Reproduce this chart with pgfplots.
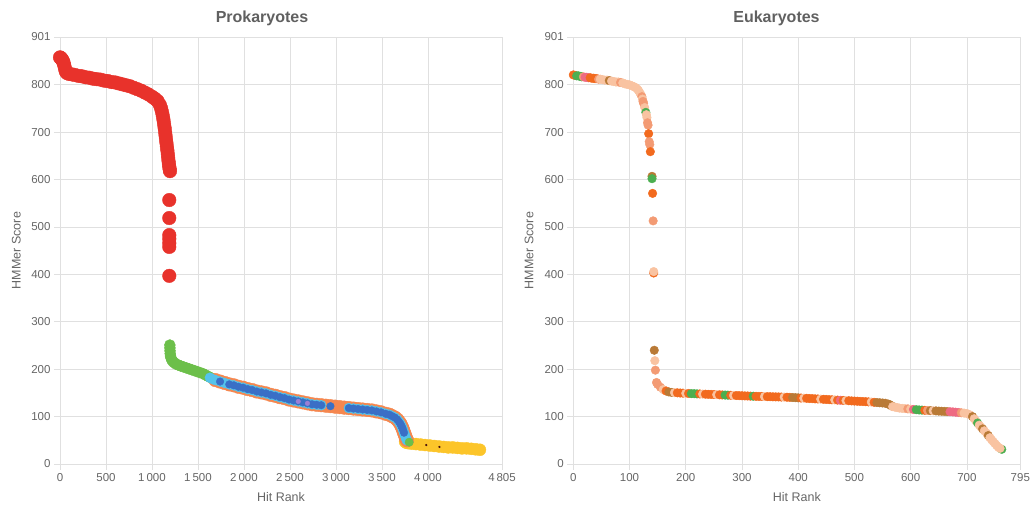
\documentclass[border=0pt]{standalone}
\usepackage{fontspec}
\setmainfont{Liberation Sans}
\usepackage{pgfplots}
\usepackage{pgfplotstable}
\pgfplotsset{compat=1.18}
\definecolor{gridc}{HTML}{E0E0E0}
\definecolor{tickc}{HTML}{666666}
\definecolor{titlec}{HTML}{606060}
\definecolor{pRed}{HTML}{E8322B}
\definecolor{pGreen}{HTML}{6CBF4A}
\definecolor{pLBlue}{HTML}{54C3EA}
\definecolor{pOrange}{HTML}{F5874F}
\definecolor{pDBlue}{HTML}{3A6FC6}
\definecolor{pYellow}{HTML}{FCC52A}
\definecolor{pPurple}{HTML}{9B7FD4}
\definecolor{eP}{HTML}{F9C3A1}
\definecolor{eO}{HTML}{F26A1E}
\definecolor{eG}{HTML}{4CAF50}
\definecolor{eB}{HTML}{B97A36}
\definecolor{eK}{HTML}{EE6A82}
\definecolor{eS}{HTML}{F39B74}

\pgfplotstableread{
x y
1630 182
1660 179
1690 177
1740 174
1790 171
1840 168
1890 166
1940 163
1990 161
2040 158
2090 156
2140 153
2190 151
2240 149
2290 146
2340 144
2390 141
2440 139
2490 136
2540 134
2590 132
2640 130
2690 128
2740 126
2790 125
2840 124
2890 123
2940 122
2990 121
3040 120
3090 119
3140 118
3190 117
3240 116
3290 115
3340 114
3390 113
3440 111
3490 109
3540 106
3580 104
3610 101
3640 98
3665 94
3685 89
3700 85
3712 80
3722 76
3731 71
3740 66
3748 62
3756 57
3764 53
3772 50
}\band

\pgfplotstableread{
x y c
0 821 O
3 820 O
6 819 G
9 819 G
12 818 G
15 817 G
18 817 S
21 816 K
24 816 K
27 815 K
30 815 O
33 814 O
36 814 O
39 813 O
42 813 O
45 812 S
48 812 P
52 811 P
56 810 P
60 810 P
64 809 B
68 808 P
72 807 P
76 806 P
80 806 P
84 805 S
88 804 P
92 802 P
96 801 P
100 800 P
104 798 P
108 796 P
111 794 P
114 791 P
116 788 P
118 784 P
120 780 P
122 775 S
123 770 P
124 765 S
125 761 S
127 752 P
129 742 G
130 737 P
131 731 P
132 720 S
133 715 S
134 697 O
135 680 S
136 674 S
137 659 O
140 607 B
140 602 G
141 571 O
142 513 S
143 403 O
143 406 P
144 240 B
145 218 P
146 198 S
148 172 S
150 168 S
155 162 S
160 157 P
165 154 O
170 152 B
175 151 B
180 150.6 P
185 150.2 O
190 149.8 O
195 149.5 O
200 149.1 P
205 148.8 O
210 148.5 G
215 148.3 G
220 148.0 G
225 147.8 O
230 147.5 P
235 147.3 O
240 147.0 O
245 146.8 O
250 146.6 O
255 146.3 P
260 146.0 O
265 145.7 O
270 145.5 G
275 145.2 G
280 145.0 O
285 144.7 P
290 144.5 O
295 144.2 O
300 144.0 O
305 143.7 O
310 143.5 O
315 143.2 O
320 143.0 G
325 142.8 O
330 142.6 O
335 142.5 O
340 142.3 P
345 142.1 O
350 142.0 O
355 141.8 O
360 141.6 O
365 141.5 O
370 141.3 O
375 141.1 P
380 140.9 O
385 140.6 O
390 140.3 B
395 139.9 B
400 139.6 B
405 139.2 O
410 138.9 P
415 138.6 O
420 138.2 O
425 137.9 O
430 137.5 O
435 137.2 O
440 136.9 P
445 136.5 O
450 136.2 O
455 135.8 O
460 135.5 O
465 135.2 P
470 134.8 O
475 134.5 K
480 134.2 O
485 133.8 P
490 133.5 O
495 133.1 O
500 132.8 O
505 132.5 O
510 132.1 O
515 131.8 O
520 131.5 O
525 131.1 O
530 130.7 P
535 130.2 O
540 129.7 B
545 129.2 B
550 128.7 B
555 128.2 B
560 126.5 B
563 125.0 B
566 122.6 B
568 121.0 P
572 120.0 P
576 119.0 P
580 118.0 P
585 117.4 P
590 116.9 P
595 116.3 S
600 115.7 P
605 115.1 K
610 114.6 G
615 114.0 G
620 113.7 G
625 113.3 O
630 113.0 S
635 112.6 B
640 112.3 P
645 112.0 B
650 111.6 B
655 111.3 B
660 110.9 B
665 110.6 B
670 110.3 K
675 109.9 K
680 109.3 K
685 108.7 K
690 108.1 S
695 107.5 P
700 106.5 P
705 104.0 P
710 100.0 B
713 95.5 P
716 91.0 P
719 86.5 G
722 82.0 P
725 78.0 P
728 74.0 B
731 70.0 P
735 65.0 P
738 60.0 B
741 55.5 P
744 51.0 P
747 47.0 P
750 43.0 P
762 31.0 G
753 39.0 P
756 35.3 P
759 33.0 P
}\euk

\pgfplotsset{
  myaxis/.style={
    scale only axis, height=427pt,
    ymin=0, ymax=901, ytick={0,100,...,800,901},
    scaled ticks=false,
    /pgf/number format/assume math mode=true,
    /pgf/number format/1000 sep={\,},
    grid=major,
    major grid style={draw=gridc, line width=0.8pt},
    axis line style={draw=gridc, line width=0.8pt},
    tick style={draw=gridc, line width=0.8pt},
    tick align=outside, major tick length=6pt,
    xtick pos=bottom, ytick pos=left,
    tick label style={text=tickc, font=\fontsize{11.5}{13}\selectfont},
    every axis y label/.style={at={(axis description cs:-0.099,0.5)}, rotate=90, anchor=center,
      text=tickc, font=\fontsize{12.5}{15}\selectfont},
    every axis x label/.style={at={(axis description cs:0.5,-0.077)}, anchor=center,
      text=tickc, font=\fontsize{12.5}{15}\selectfont},
    xlabel={Hit Rank}, ylabel={HMMer Score},
  }
}

\begin{document}
\begin{tikzpicture}
\useasboundingbox (0pt,0pt) rectangle (1031pt,506pt);
\begin{axis}[myaxis, at={(60pt,42pt)}, anchor=south west, width=442pt,
  xmin=0, xmax=4805, xtick={0,500,...,4000,4805},
  title={Prokaryotes},
  every axis title/.style={at={(axis description cs:0.457,1.043)}, anchor=center,
    text=titlec, font=\bfseries\fontsize{16}{19}\selectfont}]
% red
\addplot[only marks, mark=*, mark size=6.8pt, color=pRed] coordinates {
(0,858) (8,857) (16,855) (24,853) (32,850) (40,846) (48,840) (56,833) (64,828)
(75,825) (100,823) (130,822) (160,821) (200,819) (240,818) (280,816) (320,815)
(360,813) (400,812) (440,811) (480,809) (520,808) (560,806) (600,805) (640,803)
(680,801) (720,799) (760,797) (800,794) (840,791) (880,788) (920,784) (960,780)
(1000,775) (1030,771) (1060,766) (1085,758) (1100,750) (1110,742) (1118,734)
(1125,726) (1131,718) (1137,710) (1142,702) (1147,694) (1152,686) (1157,678)
(1162,670) (1167,662) (1172,654) (1176,646) (1180,639) (1184,633) (1188,627)
(1192,622) (1196,618)
(1188,557) (1188,519) (1188,483) (1188,475) (1188,466) (1188,458) (1188,397)
};
% green
\addplot[only marks, mark=*, mark size=5.5pt, color=pGreen] coordinates {
(1194,251) (1195,245) (1196,239) (1198,233) (1201,228) (1206,224) (1214,220)
(1225,217) (1240,214) (1260,211) (1285,209) (1310,207) (1340,205) (1370,203)
(1400,201) (1430,199) (1460,197) (1490,195) (1520,193) (1550,191) (1580,188)
(1610,185) (1640,182)
};
% yellow
\addplot[only marks, mark=*, mark size=6pt, color=pYellow] coordinates {
(3752,47) (3765,45) (3785,44) (3820,43) (3870,42) (3920,41) (3970,40) (4020,39)
(4070,38) (4120,37) (4170,36) (4220,35) (4270,35) (4320,34) (4370,33) (4420,33)
(4470,32) (4520,31) (4565,30)
};
% orange
\addplot[only marks, mark=*, mark size=6.8pt, color=pOrange, restrict x to domain=1690:3780] table[x=x,y=y]{\band};
% light blue
\addplot[only marks, mark=*, mark size=5pt, color=pLBlue, restrict x to domain=1630:2860] table[x=x,y=y]{\band};
\addplot[only marks, mark=*, mark size=5pt, color=pLBlue, restrict x to domain=3100:3775] table[x=x,y=y]{\band};
% dark blue
\addplot[only marks, mark=*, mark size=3.8pt, color=pDBlue, restrict x to domain=1890:2880] table[x=x,y=y]{\band};
\addplot[only marks, mark=*, mark size=3.8pt, color=pDBlue, restrict x to domain=3120:3740] table[x=x,y=y]{\band};
\addplot[only marks, mark=*, mark size=3.8pt, color=pDBlue] coordinates {(1740,174) (1840,168) (2940,122)};
% purple
\addplot[only marks, mark=*, mark size=2.3pt, color=pPurple] coordinates {(2590,132) (2690,128)};
% green dot
\addplot[only marks, mark=*, mark size=4.2pt, color=pGreen] coordinates {(3796,46)};
% tiny dots
\addplot[only marks, mark=*, mark size=0.9pt, color=black!70!pRed] coordinates {(3982,40) (4125,36)};
\end{axis}

\begin{axis}[myaxis, at={(573.3pt,42pt)}, anchor=south west, width=447pt,
  xmin=0, xmax=795, xtick={0,100,...,700,795},
  title={Eukaryotes},
  every axis title/.style={at={(axis description cs:0.4546,1.043)}, anchor=center,
    text=titlec, font=\bfseries\fontsize{16}{19}\selectfont}]
\addplot[scatter, only marks, mark=*, mark size=4.3pt,
  scatter src=explicit symbolic,
  scatter/classes={
    P={mark=*,color=eP}, O={mark=*,color=eO}, G={mark=*,color=eG},
    B={mark=*,color=eB}, K={mark=*,color=eK}, S={mark=*,color=eS}}]
  table[x=x,y=y,meta=c]{\euk};
\end{axis}
\end{tikzpicture}
\end{document}
